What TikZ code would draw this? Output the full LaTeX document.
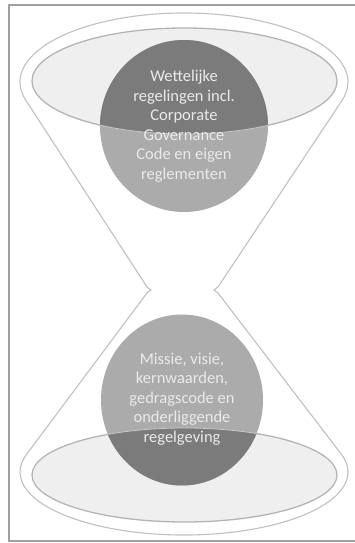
\documentclass[tikz,border=0pt]{standalone}
\usepackage{fontspec}
\setmainfont{Carlito}
\definecolor{framegray}{HTML}{A0A0A0}
\definecolor{linegray}{HTML}{C0C0C0}
\definecolor{ellfill}{HTML}{EFEFEF}
\definecolor{ellline}{HTML}{B4B4B4}
\definecolor{ellinner}{HTML}{C8C8C8}
\definecolor{circlight}{HTML}{ABABAB}
\definecolor{circdark}{HTML}{7B7B7B}
\definecolor{txt}{HTML}{EAEAEA}
\begin{document}
\begin{tikzpicture}[x=1pt,y=1pt,
  outline/.style={draw=linegray, line width=1.1pt},
  ellshape/.style={fill=ellfill, draw=ellline, line width=1.3pt},
  circtext/.style={text=txt, align=center, font=\fontsize{16.5}{19.5}\selectfont, inner sep=0pt}]
\useasboundingbox (0,0) rectangle (355,543);
\begin{scope}
\clip (0,0) rectangle (355,543);
\draw[framegray, line width=1.6pt] (360,538) -- (9,538) -- (9,2) -- (360,2);
\end{scope}
% hourglass outline
\draw[outline] ([shift={(195.31:164pt and 69pt)}]184,461)
  arc[start angle=195.31, end angle=-15.79, x radius=164pt, y radius=69pt]
  -- (218,256) .. controls (216,254) .. (214,253) .. controls (216,252) .. (218,250)
  -- ([shift={(16.54:164pt and 63pt)}]184,71)
  arc[start angle=16.54, end angle=-196.01, x radius=164pt, y radius=63pt]
  -- (147,250) .. controls (149,252) .. (151,253) .. controls (149,254) .. (147,256) -- cycle;
% inner ellipses
\path[ellshape] (184.5,462) ellipse[x radius=152.5pt, y radius=53pt];
\path[ellshape] (184.5,68) ellipse[x radius=152.5pt, y radius=47pt];
% top circle
\fill[circlight] (184,417) ellipse[x radius=84pt, y radius=86pt];
\begin{scope}
\clip (184.5,462) ellipse[x radius=152.5pt, y radius=53pt];
\fill[circdark] (184,417) ellipse[x radius=84pt, y radius=86pt];
\end{scope}
\begin{scope}
\clip (184,417) ellipse[x radius=84pt, y radius=86pt];
\draw[ellinner, line width=0.8pt] (184.5,462) ellipse[x radius=152.5pt, y radius=53pt];
\end{scope}
% bottom circle
\fill[circlight] (182,143) ellipse[x radius=81pt, y radius=85.5pt];
\begin{scope}
\clip (184.5,68) ellipse[x radius=152.5pt, y radius=47pt];
\fill[circdark] (182,143) ellipse[x radius=81pt, y radius=85.5pt];
\end{scope}
\begin{scope}
\clip (182,143) ellipse[x radius=81pt, y radius=85.5pt];
\draw[ellinner, line width=0.8pt] (184.5,68) ellipse[x radius=152.5pt, y radius=47pt];
\end{scope}
% texts
\node[circtext] (toptext) at (184,417) {Wettelijke\\regelingen incl.\\Corporate\\Governance\\Code en eigen\\reglementen};
\node[circtext] (bottext) at (182,144) {Missie, visie,\\kernwaarden,\\gedragscode en\\onderliggende\\regelgeving};
\end{tikzpicture}
\end{document}
